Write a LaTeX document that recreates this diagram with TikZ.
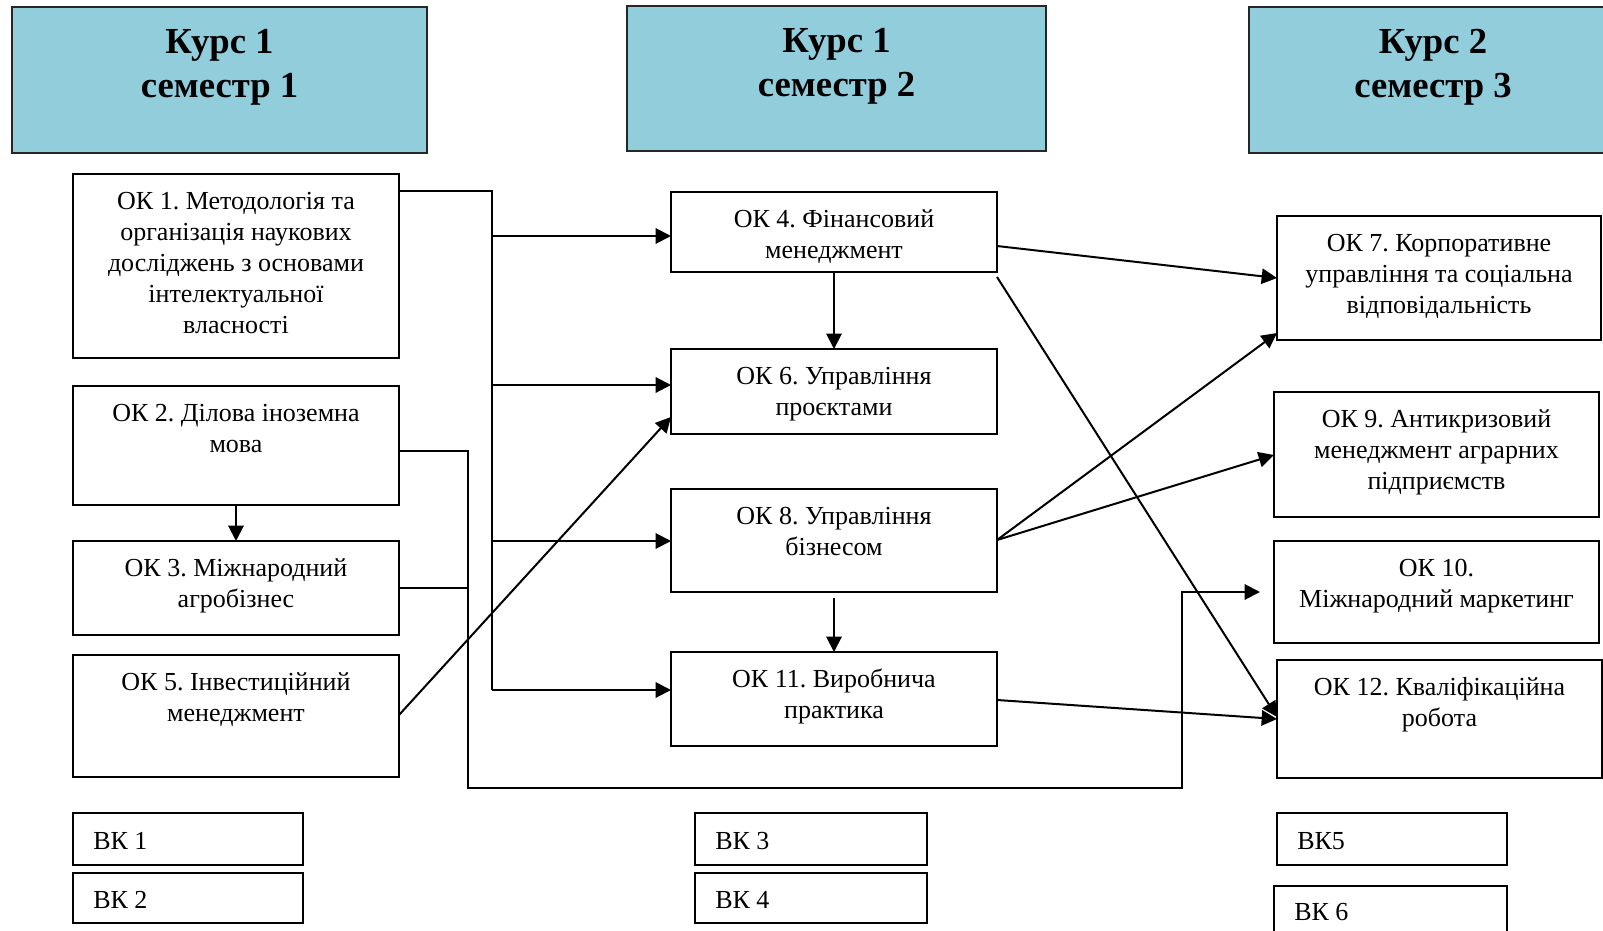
\documentclass[tikz,border=0pt]{standalone}
\usepackage{fontspec}
\setmainfont{Liberation Serif}
\usetikzlibrary{arrows.meta,calc}
\definecolor{hdrblue}{RGB}{146,205,220}
\newcommand\mkbox[6]{\node[#1,anchor=north west,minimum width={(#5-#3)*0.75pt},minimum height={(#6-#4)*0.75pt}] (#2) at (#3,#4) {};}
\newcommand\topst{\rule{0pt}{15pt}}
\newcommand\hdst{\rule{0pt}{22pt}}
\frenchspacing
\tikzset{
  okbox/.style={draw=black,line width=1.4pt,inner sep=0pt,outer sep=0pt,rectangle},
  hdrbox/.style={draw=black!85,fill=hdrblue,line width=1.4pt,inner sep=0pt,outer sep=0pt,rectangle},
  lbl/.style={font=\fontsize{19.5}{23.25}\selectfont,align=center,inner sep=0pt,anchor=north},
  hdrlbl/.style={font=\fontsize{27.5}{33}\selectfont\bfseries,align=center,inner sep=0pt,anchor=north},
  vklbl/.style={font=\fontsize{19.5}{23.25}\selectfont,inner sep=0pt,anchor=base west},
  conn/.style={line width=1.5pt,draw=black},
  arr/.style={conn,-{Triangle[length=11.5pt,width=11.5pt]}}
}
\begin{document}
\begin{tikzpicture}[x=0.75pt,y=-0.75pt]
\useasboundingbox (0,0) rectangle (1603,931);
\clip (0,0) rectangle (1603,931);
% headers
\mkbox{hdrbox}{h1}{12}{7}{427}{153}
\mkbox{hdrbox}{h2}{627}{6}{1046}{151}
\mkbox{hdrbox}{h3}{1249}{7}{1617}{153}
\node[hdrlbl] (th1) at ($(h1.north)+(0,16.7)$) {\hdst Курс 1\\семестр 1};
\node[hdrlbl] (th2) at ($(h2.north)+(0,16.7)$) {\hdst Курс 1\\семестр 2};
\node[hdrlbl] (th3) at ($(h3.north)+(0,16.7)$) {\hdst Курс 2\\семестр 3};
% column 1
\mkbox{okbox}{ok1}{73}{174}{399}{358}
\mkbox{okbox}{ok2}{73}{386}{399}{505}
\mkbox{okbox}{ok3}{73}{541}{399}{635}
\mkbox{okbox}{ok5}{73}{655}{399}{777}
% column 2
\mkbox{okbox}{ok4}{671}{192}{997}{272}
\mkbox{okbox}{ok6}{671}{349}{997}{434}
\mkbox{okbox}{ok8}{671}{489}{997}{592}
\mkbox{okbox}{ok11}{671}{652}{997}{746}
% column 3
\mkbox{okbox}{ok7}{1277}{216}{1601}{340}
\mkbox{okbox}{ok9}{1274}{392}{1599}{517}
\mkbox{okbox}{ok10}{1274}{541}{1599}{643}
\mkbox{okbox}{ok12}{1277}{660}{1602}{778}
% elective boxes
\mkbox{okbox}{vk1}{73}{813}{303}{865}
\mkbox{okbox}{vk2}{73}{873}{303}{923}
\mkbox{okbox}{vk3}{695}{813}{927}{865}
\mkbox{okbox}{vk4}{695}{873}{927}{923}
\mkbox{okbox}{vk5}{1277}{813}{1507}{865}
\mkbox{okbox}{vk6}{1274}{886}{1507}{950}
% texts
\node[lbl] (t1) at ($(ok1.north)+(0,15)$) {\topst ОК 1. Методологія та\\організація наукових\\досліджень з основами\\інтелектуальної\\власності};
\node[lbl] (t2) at ($(ok2.north)+(0,15)$) {\topst ОК 2. Ділова іноземна\\мова};
\node[lbl] (t3) at ($(ok3.north)+(0,15)$) {\topst ОК 3. Міжнародний\\агробізнес};
\node[lbl] (t5) at ($(ok5.north)+(0,15)$) {\topst ОК 5. Інвестиційний\\менеджмент};
\node[lbl] (t4) at ($(ok4.north)+(0,15)$) {\topst ОК 4. Фінансовий\\менеджмент};
\node[lbl] (t6) at ($(ok6.north)+(0,15)$) {\topst ОК 6. Управління\\проєктами};
\node[lbl] (t8) at ($(ok8.north)+(0,15)$) {\topst ОК 8. Управління\\бізнесом};
\node[lbl] (t11) at ($(ok11.north)+(0,15)$) {\topst ОК 11. Виробнича\\практика};
\node[lbl] (t7) at ($(ok7.north)+(0,15)$) {\topst ОК 7. Корпоративне\\управління та соціальна\\відповідальність};
\node[lbl] (t9) at ($(ok9.north)+(0,15)$) {\topst ОК 9. Антикризовий\\менеджмент аграрних\\підприємств};
\node[lbl] (t10) at ($(ok10.north)+(0,15)$) {\topst ОК 10.\\Міжнародний маркетинг};
\node[lbl] (t12) at ($(ok12.north)+(0,15)$) {\topst ОК 12. Кваліфікаційна\\робота};
\node[vklbl] (tv1) at ($(vk1.north west)+(20,36)$) {ВК 1};
\node[vklbl] (tv2) at ($(vk2.north west)+(20,35)$) {ВК 2};
\node[vklbl] (tv3) at ($(vk3.north west)+(20,36)$) {ВК 3};
\node[vklbl] (tv4) at ($(vk4.north west)+(20,35)$) {ВК 4};
\node[vklbl] (tv5) at ($(vk5.north west)+(20,36)$) {ВК5};
\node[vklbl] (tv6) at ($(vk6.north west)+(20,34)$) {ВК 6};
% level coordinates
\coordinate (tr) at (492,191);
\coordinate (y4) at (0,236);
\coordinate (y6) at (0,385);
\coordinate (y8) at (0,541);
\coordinate (y11) at (0,690);
\coordinate (jn) at (468,451);
\coordinate (y3) at (0,588);
\coordinate (yb) at (0,788);
\coordinate (rv) at (1182,592);
\coordinate (e10) at (1260,592);
\coordinate (y5) at (0,715);
\coordinate (y6b) at (0,417);
\coordinate (s8) at (834,598);
\coordinate (ya) at (0,246);
\coordinate (yc) at (0,278);
\coordinate (yd) at (0,277);
\coordinate (ye) at (0,717);
\coordinate (yf) at (0,540);
\coordinate (yg) at (0,333);
\coordinate (yh) at (0,455);
\coordinate (yi) at (0,700);
\coordinate (yj) at (0,719);
% trunk from OK1
\draw[conn] (ok1.east |- tr) -- (tr) -- (tr |- y11);
\draw[arr] (tr |- y4) -- (ok4.west |- y4);
\draw[arr] (tr |- y6) -- (ok6.west |- y6);
\draw[arr] (tr |- y8) -- (ok8.west |- y8);
\draw[arr] (tr |- y11) -- (ok11.west |- y11);
% OK2 / OK3 route to OK10
\draw[arr] (ok2.east |- jn) -- (jn) -- (jn |- yb) -- (rv |- yb) -- (rv) -- (e10);
\draw[conn] (ok3.east |- y3) -- (jn |- y3);
\draw[arr] (ok2.south) -- (ok3.north);
% OK5 -> OK6
\draw[arr] (ok5.east |- y5) -- (ok6.west |- y6b);
% vertical arrows column 2
\draw[arr] (ok4.south) -- (ok6.north);
\draw[arr] (s8) -- (ok11.north);
% to column 3
\draw[arr] (ok4.east |- ya) -- (ok7.west |- yc);
\draw[arr] (ok4.east |- yd) -- (ok12.west |- ye);
\draw[arr] (ok8.east |- yf) -- (ok7.west |- yg);
\draw[arr] (ok8.east |- yf) -- (ok9.west |- yh);
\draw[arr] (ok11.east |- yi) -- (ok12.west |- yj);
\end{tikzpicture}
\end{document}
